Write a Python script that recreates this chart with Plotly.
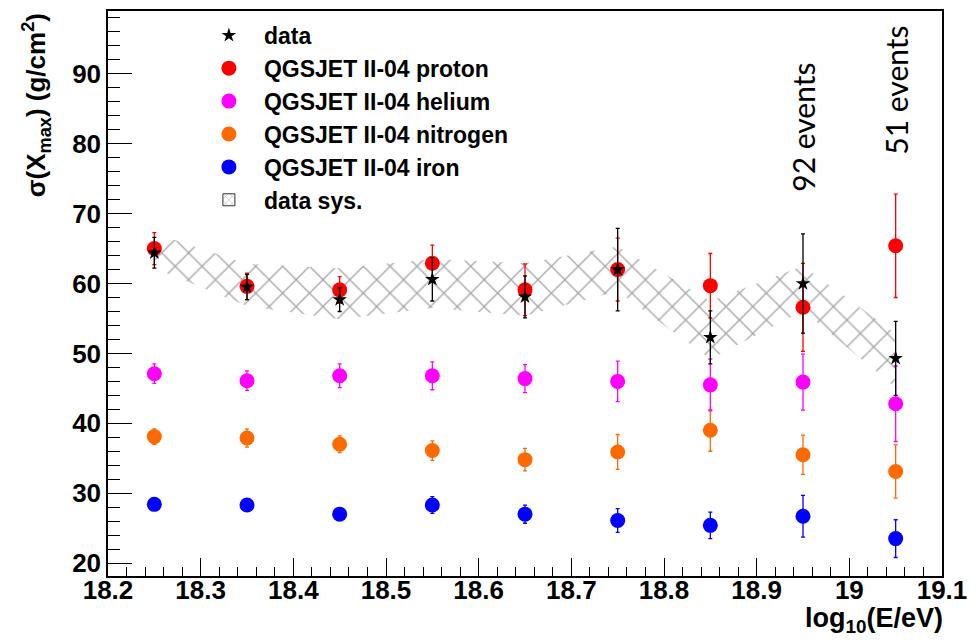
import plotly.graph_objects as go

# ---------------- data ----------------
energy = [18.25, 18.35, 18.45, 18.55, 18.65, 18.75, 18.85, 18.95, 19.05]

data_val = [64.4, 59.5, 57.7, 60.6, 58.1, 62.0, 52.3, 60.0, 49.3]
data_err = [2.2, 1.8, 1.7, 3.1, 3.0, 5.9, 3.8, 7.1, 5.3]

sys_up = [67.2, 62.8, 62.2, 63.5, 62.9, 65.3, 57.5, 62.5, 52.9]
sys_lo = [62.2, 56.8, 54.9, 56.5, 55.4, 58.9, 49.2, 56.1, 45.1]

proton_val = [65.0, 59.6, 59.1, 62.9, 59.1, 62.0, 59.7, 56.6, 65.4]
proton_err = [2.3, 1.9, 1.9, 2.6, 3.7, 4.5, 4.6, 6.3, 7.4]

helium_val = [47.1, 46.1, 46.8, 46.8, 46.4, 46.0, 45.5, 45.9, 42.8]
helium_err = [1.4, 1.4, 1.7, 2.0, 2.0, 2.9, 3.7, 4.0, 5.4]

nitrogen_val = [38.1, 37.9, 37.0, 36.1, 34.8, 35.9, 39.0, 35.5, 33.1]
nitrogen_err = [1.1, 1.3, 1.2, 1.4, 1.6, 2.5, 3.0, 2.8, 3.8]

iron_val = [28.4, 28.3, 27.0, 28.3, 27.0, 26.1, 25.4, 26.7, 23.5]
iron_err = [0.8, 0.8, 0.8, 1.2, 1.3, 1.7, 1.9, 3.0, 2.7]

x_ticks = [18.2, 18.3, 18.4, 18.5, 18.6, 18.7, 18.8, 18.9, 19.0, 19.1]
x_ticklabels = ["18.2", "18.3", "18.4", "18.5", "18.6", "18.7", "18.8", "18.9", "19", "19.1"]
y_ticks = [20, 30, 40, 50, 60, 70, 80, 90]

event_labels = [(18.95, 82.3, "92 events"), (19.05, 87.7, "51 events")]

# ---------------- figure ----------------
fig = go.Figure()

hatch = dict(shape="x", fgcolor="#4a4a4a", bgcolor="rgba(255,255,255,0)",
             size=19, solidity=0.13)

# systematic band (hatched)
fig.add_trace(go.Scatter(
    x=energy + energy[::-1],
    y=sys_up + sys_lo[::-1],
    fill="toself",
    mode="lines",
    line=dict(width=0, color="rgba(0,0,0,0)"),
    fillcolor="rgba(255,255,255,0)",
    fillpattern=hatch,
    name="data sys.",
    showlegend=False,
    hoverinfo="skip",
))

def model_trace(vals, errs, color, name, rank):
    return go.Scatter(
        x=energy, y=vals, mode="markers", name=name, legendrank=rank,
        marker=dict(symbol="circle", size=15, color=color, line=dict(width=0)),
        error_y=dict(type="data", array=errs, visible=True, color=color,
                     thickness=1.3, width=2),
    )

fig.add_trace(model_trace(iron_val, iron_err, "#0000ff", "QGSJET II-04 iron", 5))
fig.add_trace(model_trace(nitrogen_val, nitrogen_err, "#ff6a00", "QGSJET II-04 nitrogen", 4))
fig.add_trace(model_trace(helium_val, helium_err, "#ff00ff", "QGSJET II-04 helium", 3))
fig.add_trace(model_trace(proton_val, proton_err, "#ff0000", "QGSJET II-04 proton", 2))

fig.add_trace(go.Scatter(
    x=energy, y=data_val, mode="markers", name="data", legendrank=1,
    marker=dict(symbol="star", size=11, color="black", line=dict(width=0)),
    error_y=dict(type="data", array=data_err, visible=True, color="black",
                 thickness=1.3, width=2),
))

# legend entry for the systematic band (hatched box with outline)
fig.add_trace(go.Bar(
    x=[None], y=[None], name="data sys.", legendrank=6, hoverinfo="skip",
    marker=dict(color="white", line=dict(color="#333333", width=1),
                pattern=dict(shape="x", fgcolor="#4a4a4a", size=6, solidity=0.2)),
))

bold_font = dict(family="Liberation Sans, Arial, sans-serif", weight="bold", color="black")

annotations = []
for ex, ey, txt in event_labels:
    annotations.append(dict(
        x=ex, y=ey, xref="x", yref="y", text=txt, showarrow=False,
        textangle=-90, font=dict(family="Lato, Open Sans, sans-serif", size=30, color="black"),
        xanchor="center", yanchor="middle",
    ))

# axis titles
annotations.append(dict(
    x=-0.086, y=1.0, xref="paper", yref="paper",
    text="σ(X<sub>max</sub>) (g/cm<sup>2</sup>)", showarrow=False, textangle=-90,
    font=dict(size=26, **bold_font), xanchor="center", yanchor="top",
))
annotations.append(dict(
    x=1.004, y=-0.045, xref="paper", yref="paper",
    text="log<sub>10</sub>(E/eV)", showarrow=False,
    font=dict(size=27, **bold_font), xanchor="right", yanchor="top",
))

fig.update_layout(
    width=980, height=644,
    margin=dict(l=108, r=38, t=9, b=68),
    plot_bgcolor="white", paper_bgcolor="white",
    showlegend=True,
    legend=dict(x=0.103, y=0.995, xanchor="left", yanchor="top",
                bgcolor="rgba(0,0,0,0)", font=dict(size=23, **bold_font),
                tracegroupgap=0, itemwidth=60),
    annotations=annotations,
)

fig.update_xaxes(
    type="linear",
    range=[18.2, 19.1], tickvals=x_ticks, ticktext=x_ticklabels,
    ticks="inside", ticklen=18, tickwidth=1, tickcolor="black",
    minor=dict(dtick=0.02, ticks="inside", ticklen=9, tickcolor="black", tickwidth=1),
    showline=True, linecolor="black", linewidth=1.5, mirror=True,
    showgrid=False, zeroline=False, ticklabelstandoff=-10,
    tickfont=dict(size=26, **bold_font),
)
fig.update_yaxes(
    type="linear",
    range=[18.15, 99.0], tickvals=y_ticks,
    ticks="inside", ticklen=24, tickwidth=1, tickcolor="black",
    minor=dict(dtick=2, ticks="inside", ticklen=12, tickcolor="black", tickwidth=1),
    showline=True, linecolor="black", linewidth=1.5, mirror=True,
    showgrid=False, zeroline=False,
    tickfont=dict(size=26, **bold_font),
)

fig.write_html("out.html")
